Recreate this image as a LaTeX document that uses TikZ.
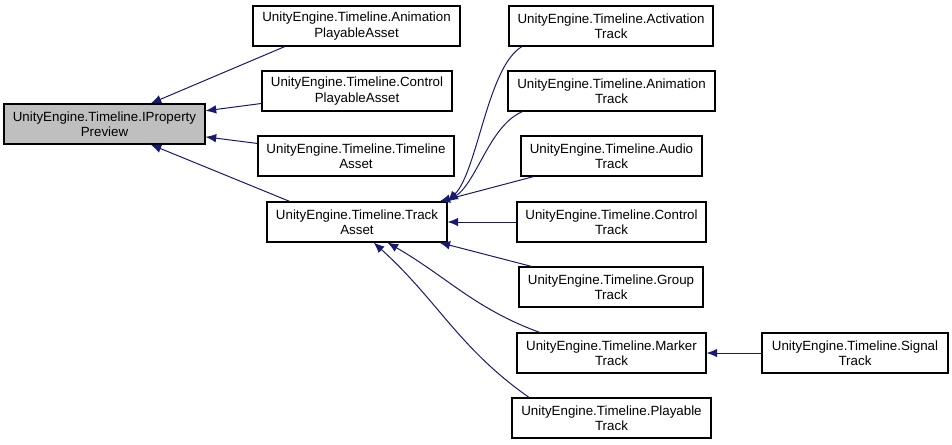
\documentclass[tikz,border=0pt]{standalone}
\usepackage{fontspec}
\setmainfont{Liberation Sans}
\usetikzlibrary{arrows.meta}
\definecolor{edgeblue}{HTML}{191970}

\begin{document}
\begin{tikzpicture}[
  x=0.75pt, y=0.75pt,
  font=\fontsize{10}{11.5}\selectfont,
  cls/.style={draw, line width=0.8pt, align=center, minimum height=30pt, inner xsep=3pt, inner ysep=2pt, fill=white},
  edge/.style={-{Latex[length=8pt, width=6.5pt]}, line width=0.75pt, draw=edgeblue}
]
\useasboundingbox (0,0) rectangle (952,-444);

\node[cls, fill=black!25, minimum width=150.75pt] (ipp) at (104.5,-124)
  {UnityEngine.Timeline.IProperty\\Preview};

\node[cls, minimum width=155.25pt] (animasset) at (356.5,-26)
  {UnityEngine.Timeline.Animation\\PlayableAsset};
\node[cls, minimum width=142.5pt] (ctrlasset) at (357,-91)
  {UnityEngine.Timeline.Control\\PlayableAsset};
\node[cls, minimum width=147pt] (tlasset) at (356,-156)
  {UnityEngine.Timeline.Timeline\\Asset};
\node[cls, minimum width=135pt] (track) at (357,-222)
  {UnityEngine.Timeline.Track\\Asset};

\node[cls, minimum width=153pt] (activ) at (611,-26)
  {UnityEngine.Timeline.Activation\\Track};
\node[cls, minimum width=155.25pt] (anim) at (611.5,-91)
  {UnityEngine.Timeline.Animation\\Track};
\node[cls, minimum width=135.75pt] (audio) at (611.5,-156)
  {UnityEngine.Timeline.Audio\\Track};
\node[cls, minimum width=141.75pt] (ctrl) at (611.5,-222)
  {UnityEngine.Timeline.Control\\Track};
\node[cls, minimum width=138pt] (group) at (611,-287)
  {UnityEngine.Timeline.Group\\Track};
\node[cls, minimum width=141.75pt] (marker) at (611.5,-353)
  {UnityEngine.Timeline.Marker\\Track};
\node[cls, minimum width=149.25pt] (playable) at (611.5,-418)
  {UnityEngine.Timeline.Playable\\Track};

\node[cls, minimum width=139.5pt] (signal) at (855,-353)
  {UnityEngine.Timeline.Signal\\Track};

% base interface
\draw[edge] (animasset.196) -- (ipp.24);
\draw[edge] (ctrlasset) -- (ipp);
\draw[edge] (tlasset) -- (ipp);
\draw[edge] (track.163) -- (ipp.-24);

% tracks
\draw[edge] (activ.193) to[out=210, in=45, out distance=30pt, in distance=32pt] (track.north east);
\draw[edge] (anim.193.5) to[out=203, in=34, out distance=27pt, in distance=27pt] (track.north east);
\draw[edge] (audio) -- (track.14);
\draw[edge] (ctrl) -- (track);
\draw[edge] (group) -- (track.-14);
\draw[edge] (marker.164) to[out=160, in=-30] (track.-34);
\draw[edge] (playable.166) to[out=145, in=-42] (track.-51);

\draw[edge] (signal) -- (marker);

\end{tikzpicture}
\end{document}
